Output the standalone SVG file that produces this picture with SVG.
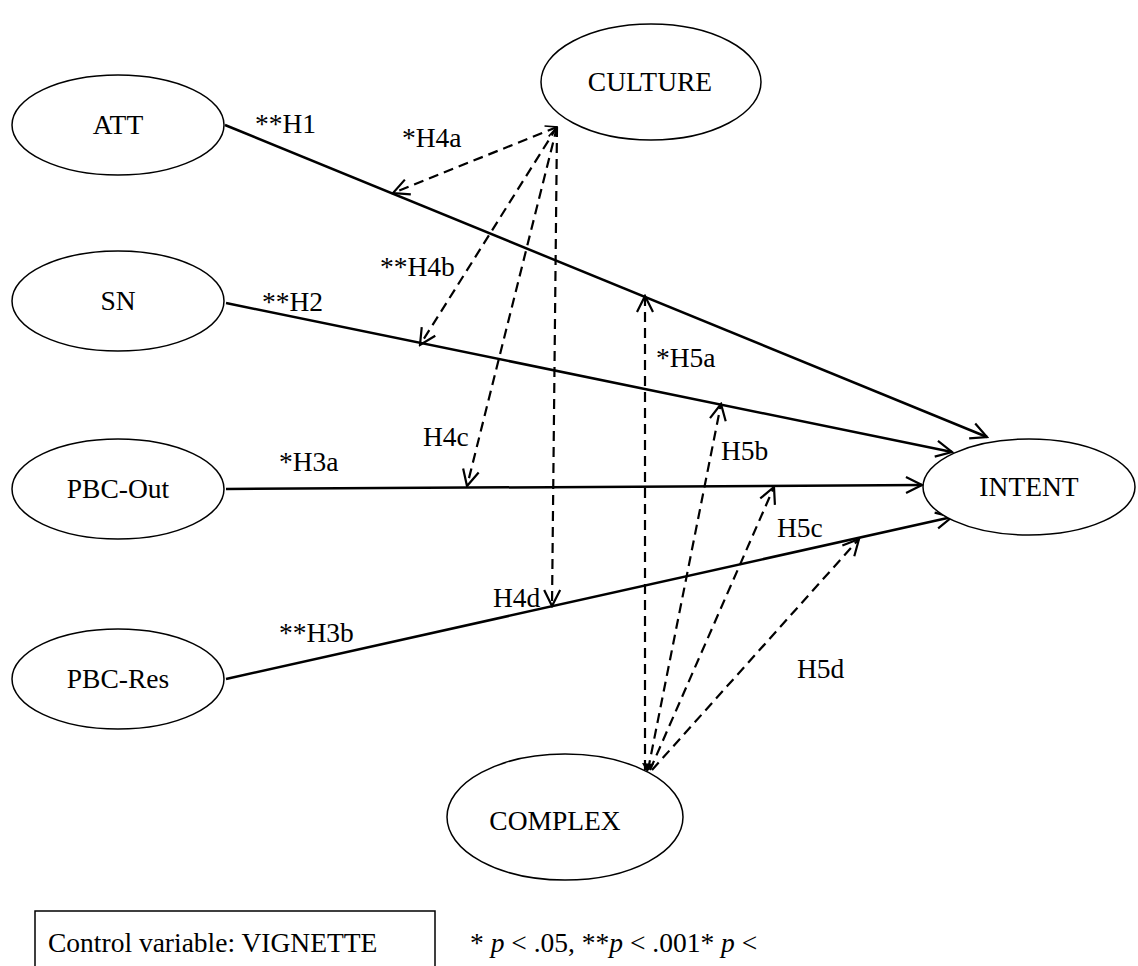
<svg xmlns="http://www.w3.org/2000/svg" width="1138" height="966" viewBox="0 0 1138 966">
<defs>
<style>
.node{fill:#fff;stroke:#000;stroke-width:1.5}
.t{font-family:"Liberation Serif","Times New Roman",serif;font-size:27.5px;fill:#000}
.c{text-anchor:middle}
.solid{stroke:#000;stroke-width:2.5;fill:none;marker-end:url(#arr)}
.dash{stroke:#000;stroke-width:2.2;fill:none;stroke-dasharray:10 6;marker-end:url(#arr)}
</style>
<marker id="arr" viewBox="0 0 20 20" refX="18" refY="10" markerWidth="20" markerHeight="20" markerUnits="userSpaceOnUse" orient="auto">
<path d="M2,2 L18,10 L2,18" fill="none" stroke="#000" stroke-width="2.2"/>
</marker>
<marker id="arrs" viewBox="0 0 20 20" refX="2" refY="10" markerWidth="14" markerHeight="14" markerUnits="userSpaceOnUse" orient="auto">
<path d="M18,2 L2,10 L18,18" fill="none" stroke="#000" stroke-width="2.2"/>
</marker>
</defs>
<rect width="1138" height="966" fill="#fff"/>
<g id="connectors">
<line class="solid" x1="225" y1="125" x2="987" y2="437"/>
<line class="solid" x1="226" y1="303" x2="952" y2="452"/>
<line class="solid" x1="226" y1="489" x2="922" y2="485"/>
<line class="solid" x1="226" y1="679" x2="952" y2="517"/>
<line class="dash" x1="557" y1="127" x2="393" y2="193" marker-start="url(#arrs)"/>
<line class="dash" x1="557" y1="127" x2="420" y2="345"/>
<line class="dash" x1="557" y1="127" x2="467" y2="486"/>
<line class="dash" x1="557" y1="127" x2="552" y2="606"/>
<line class="dash" x1="645" y1="770" x2="645" y2="296"/>
<line class="dash" x1="648" y1="770" x2="721" y2="404"/>
<line class="dash" x1="650" y1="770" x2="774" y2="487"/>
<line class="dash" x1="652" y1="770" x2="859" y2="539"/>
<path d="M647,772 L642,763 L654,764 Z" fill="#000"/>
</g>
<g id="ATT"><ellipse class="node" cx="118" cy="125" rx="106" ry="50"/><text class="t c" x="118" y="134">ATT</text></g>
<g id="SN"><ellipse class="node" cx="118" cy="301" rx="106" ry="50"/><text class="t c" x="118" y="310">SN</text></g>
<g id="PBC-Out"><ellipse class="node" cx="118" cy="489" rx="106" ry="50"/><text class="t c" x="118" y="498">PBC-Out</text></g>
<g id="PBC-Res"><ellipse class="node" cx="118" cy="679" rx="106" ry="50"/><text class="t c" x="118" y="688">PBC-Res</text></g>
<g id="CULTURE"><ellipse class="node" cx="651" cy="82" rx="110" ry="58"/><text class="t c" x="650" y="91">CULTURE</text></g>
<g id="INTENT"><ellipse class="node" cx="1029" cy="487" rx="106" ry="48"/><text class="t c" x="1029" y="496">INTENT</text></g>
<g id="COMPLEX"><ellipse class="node" cx="565" cy="817" rx="118" ry="63"/><text class="t c" x="555" y="830">COMPLEX</text></g>
<g id="labels">
<text class="t" x="255" y="133">**H1</text>
<text class="t" x="402" y="147">*H4a</text>
<text class="t" x="380" y="276">**H4b</text>
<text class="t" x="262" y="311">**H2</text>
<text class="t" x="656" y="367">*H5a</text>
<text class="t" x="721" y="460">H5b</text>
<text class="t" x="423" y="446">H4c</text>
<text class="t" x="279" y="471">*H3a</text>
<text class="t" x="777" y="537">H5c</text>
<text class="t" x="493" y="607">H4d</text>
<text class="t" x="279" y="642">**H3b</text>
<text class="t" x="797" y="678">H5d</text>
</g>
<g id="legend">
<rect x="35" y="911" width="400" height="70" fill="none" stroke="#000" stroke-width="1.5"/>
<text class="t" x="48" y="952">Control variable: VIGNETTE</text>
<text class="t" x="470" y="952">* <tspan font-style="italic">p</tspan> &lt; .05, **<tspan font-style="italic">p</tspan> &lt; .001* <tspan font-style="italic">p</tspan> &lt;</text>
</g>
</svg>
